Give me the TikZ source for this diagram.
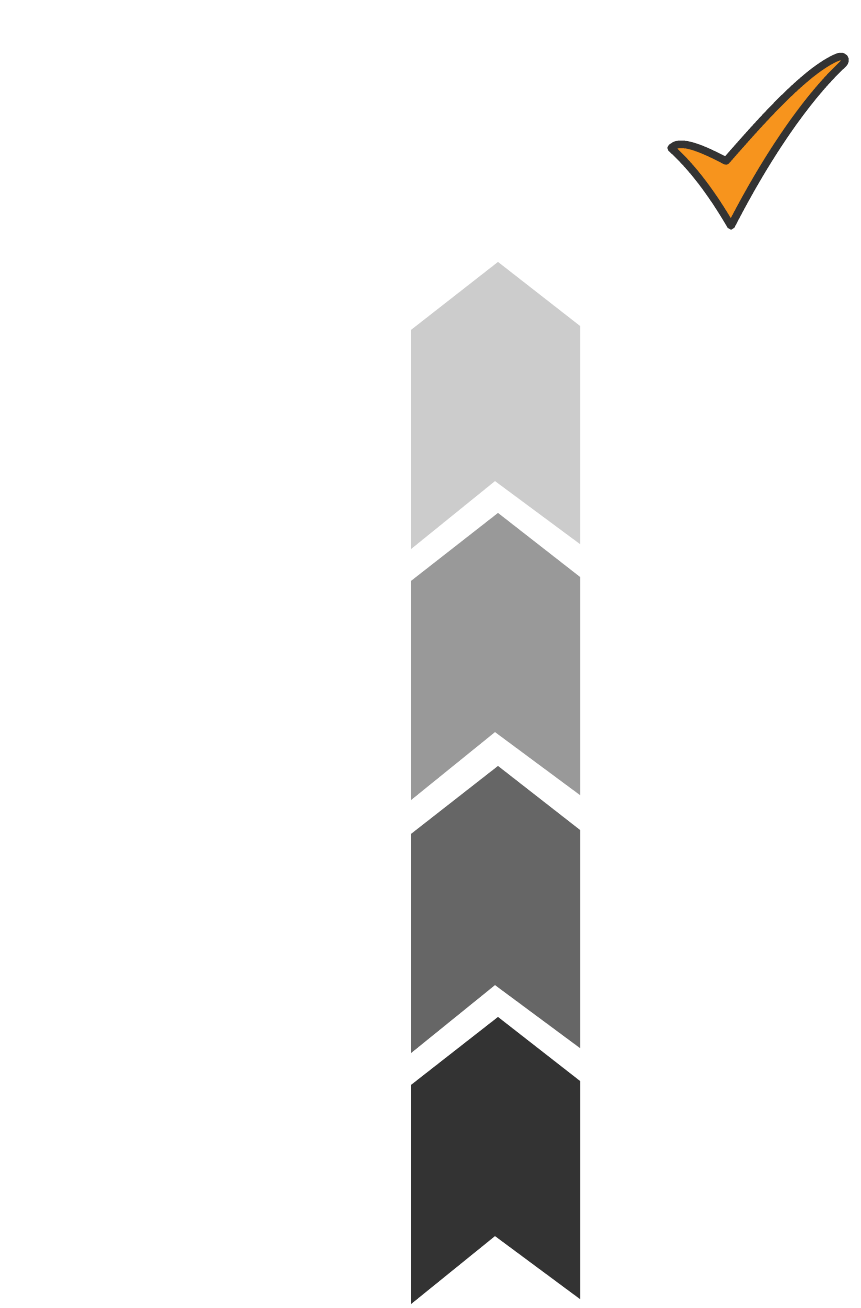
\documentclass[tikz,border=0pt]{standalone}
\usetikzlibrary{calc}
\colorlet{step_one}{black!20}
\colorlet{step_two}{black!40}
\colorlet{step_three}{black!60}
\colorlet{step_four}{black!80}
\definecolor{tick_fill}{HTML}{F7941D}
\colorlet{tick_line}{black!80}
\tikzset{
  chevron/.style={draw=none},
  tick mark/.style={fill=tick_fill, draw=tick_line, line width=7.5pt, line join=round}
}

\begin{document}
\begin{tikzpicture}[x=1pt, y=-1pt]
\useasboundingbox (0,0) rectangle (861,1308);

% Draw the stacked chevrons, top to bottom
\foreach \dy/\col in {0/step_one, 251/step_two, 504/step_three, 755/step_four}{
  \fill[chevron, \col] (411,330+\dy) -- (498,262+\dy) -- (580,326+\dy)
    -- (580,544+\dy) -- (495,481+\dy) -- (411,549+\dy) -- cycle;
}

% Draw the orange check mark
\draw[tick mark] (671,148) .. controls (680,138) and (705,150) .. (726,161)
  .. controls (755,128) and (805,70) .. (838,57)
  .. controls (845,55) and (848,60) .. (842,65)
  .. controls (810,95) and (770,150) .. (731,226)
  .. controls (710,190) and (690,165) .. cycle;

\end{tikzpicture}
\end{document}
